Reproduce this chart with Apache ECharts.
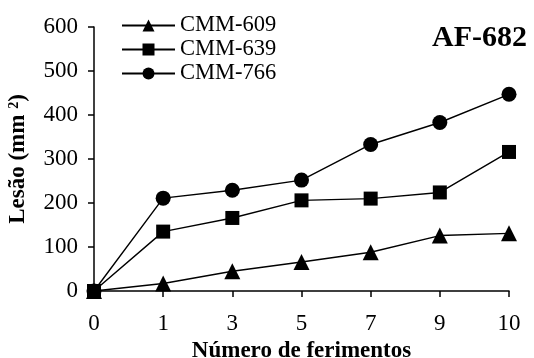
<!DOCTYPE html>
<html><head><meta charset="utf-8">
<script src="https://cdn.jsdelivr.net/npm/echarts@6/dist/echarts.min.js"></script>
<style>html,body{margin:0;padding:0;background:#fff}#c{width:534px;height:358px}</style>
</head><body><div id="c"></div>
<script>
const categories = ['0','1','3','5','7','9','10'];
const cmm609 = [0, 17, 45, 66, 88, 126, 131];
const cmm639 = [0, 135, 166, 206, 210, 224, 316];
const cmm766 = [0, 211, 229, 252, 333, 383, 447];
const yTicks = [0, 100, 200, 300, 400, 500, 600];

const chart = echarts.init(document.getElementById('c'));
const font = '"Liberation Serif","Times New Roman",serif';
function mk(name, data, symbol, size) {
  return { name, type: 'line', data, symbol, symbolSize: size,
    lineStyle: { color: '#000', width: 1.4 }, itemStyle: { color: '#000' },
    animation: false, z: 3 };
}
chart.setOption({
  animation: false,
  title: { text: 'AF-682', right: 2, top: 18,
    textStyle: { fontFamily: font, fontWeight: 'bold', fontSize: 30, color: '#000' } },
  legend: { left: 116, top: 9, orient: 'vertical', itemWidth: 53, itemHeight: 15, itemGap: 1,
    textStyle: { fontFamily: font, fontSize: 22.5, lineHeight: 23, color: '#000' },
    data: ['CMM-609','CMM-639','CMM-766'] },
  grid: { left: 94, right: 25, top: 27, bottom: 67, containLabel: false, outerBoundsMode: 'none' },
  xAxis: { type: 'category', data: categories, boundaryGap: false,
    axisLine: { lineStyle: { color: '#000', width: 1.5 } },
    axisTick: { alignWithLabel: true, length: 6, lineStyle: { color: '#000', width: 1.5 } },
    axisLabel: { fontFamily: font, fontSize: 23, color: '#000', margin: 21 },
    name: 'Número de ferimentos', nameLocation: 'middle', nameGap: 48,
    nameTextStyle: { fontFamily: font, fontWeight: 'bold', fontSize: 23, color: '#000' } },
  yAxis: { type: 'value', min: yTicks[0], max: yTicks[yTicks.length-1], interval: 100,
    splitLine: { show: false },
    axisLine: { show: true, lineStyle: { color: '#000', width: 1.5 } },
    axisTick: { show: true, length: 6, lineStyle: { color: '#000', width: 1.5 } },
    axisLabel: { fontFamily: font, fontSize: 23, color: '#000', margin: 16 },
    name: 'Lesão (mm {sup|2})', nameLocation: 'middle', nameGap: 64, nameRotate: 90,
    nameTextStyle: { fontFamily: font, fontWeight: 'bold', fontSize: 23, color: '#000',
      rich: { sup: { fontFamily: font, fontWeight: 'bold', fontSize: 14, verticalAlign: 'top', color: '#000', padding: [0,0,9,0] } } } },
  series: [
    mk('CMM-609', cmm609, 'triangle', 16),
    mk('CMM-639', cmm639, 'rect', 14),
    mk('CMM-766', cmm766, 'circle', 15)
  ]
});
</script></body></html>
